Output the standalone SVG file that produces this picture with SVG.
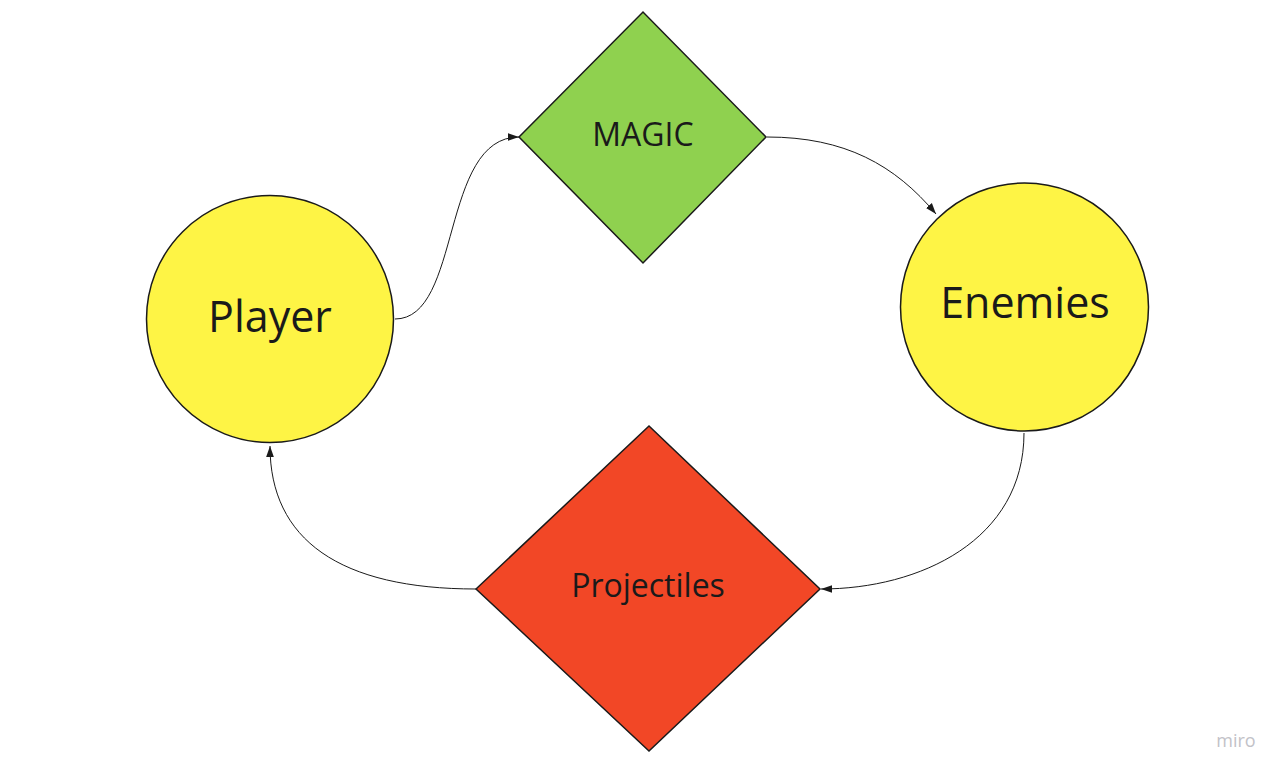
<svg xmlns="http://www.w3.org/2000/svg" width="1286" height="777" viewBox="0 0 1286 777">
<style>
.shape{stroke:#1a1a1a;stroke-width:1.5}
.lbl{font-family:"Open Sans","Liberation Sans",sans-serif;fill:#1a1a1a;text-anchor:middle}
.conn{fill:none;stroke:#1a1a1a;stroke-width:1}
</style>
<defs>
<marker id="arr" viewBox="0 0 10 10" refX="10" refY="5" markerWidth="11" markerHeight="11" markerUnits="userSpaceOnUse" orient="auto">
<path d="M0,1.5 L10,5 L0,8.5 Z" fill="#1a1a1a"/>
</marker>
</defs>
<rect width="1286" height="777" fill="#ffffff"/>
<g id="connectors">
<path class="conn" d="M395,319 C462,319 440,137 519,137" marker-end="url(#arr)"/>
<path class="conn" d="M767,137 C845,137 895,165 936,214" marker-end="url(#arr)"/>
<path class="conn" d="M1024,433 C1024,540 920,589 821,589" marker-end="url(#arr)"/>
<path class="conn" d="M476,589 C340,589 270,540 270,446" marker-end="url(#arr)"/>
</g>
<g id="player">
<circle class="shape" cx="270" cy="319" r="123.5" fill="#fef445"/>
<text class="lbl" x="270" y="332" font-size="43">Player</text>
</g>
<g id="magic">
<polygon class="shape" points="519,137 643,12 766,137 643,263" fill="#8fd14f"/>
<text class="lbl" x="643" y="146" font-size="32">MAGIC</text>
</g>
<g id="enemies">
<circle class="shape" cx="1024.5" cy="307" r="124" fill="#fef445"/>
<text class="lbl" x="1025" y="318" font-size="43">Enemies</text>
</g>
<g id="projectiles">
<polygon class="shape" points="476,589 649,426 820,589 649,751" fill="#f24726"/>
<text class="lbl" x="648" y="597" font-size="32">Projectiles</text>
</g>
<text x="1236" y="747" font-family="'Open Sans','Liberation Sans',sans-serif" font-size="18" fill="#c2c2c8" text-anchor="middle">miro</text>
</svg>
